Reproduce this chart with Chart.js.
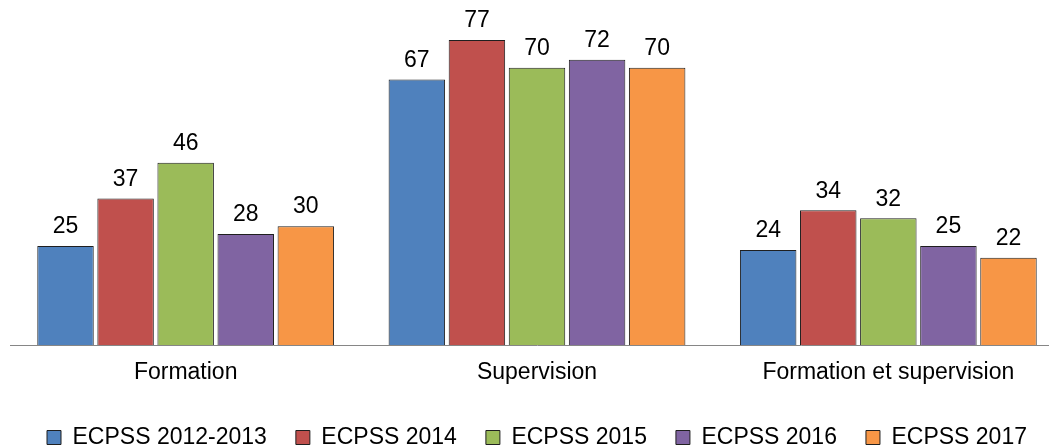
<!DOCTYPE html>
<html>
<head>
<meta charset="utf-8">
<script src="https://cdn.jsdelivr.net/npm/chart.js@4"></script>
<style>
  html, body { margin: 0; padding: 0; background: #fff; overflow: hidden; }
  #wrap { width: 1064px; height: 448px; }
</style>
</head>
<body>
<div id="wrap"><canvas id="chart"></canvas></div>
<script>
// Chart data
const categories = ["Formation", "Supervision", "Formation et supervision"];
const seriesNames = ["ECPSS 2012-2013", "ECPSS 2014", "ECPSS 2015", "ECPSS 2016", "ECPSS 2017"];
const ecpss2012 = [25, 67, 24];
const ecpss2014 = [37, 77, 34];
const ecpss2015 = [46, 70, 32];
const ecpss2016 = [28, 72, 25];
const ecpss2017 = [30, 70, 22];

const seriesValues = [ecpss2012, ecpss2014, ecpss2015, ecpss2016, ecpss2017];
const seriesColors = ["#4F81BD", "#C0504D", "#9BBB59", "#8064A2", "#F79646"];

const fontFamily = "'Liberation Sans', Arial, sans-serif";

// Draw the value above each bar
const valueLabels = {
  id: "valueLabels",
  afterDatasetsDraw(chart) {
    const ctx = chart.ctx;
    ctx.save();
    ctx.font = "23px " + fontFamily;
    ctx.fillStyle = "#000";
    ctx.textAlign = "center";
    ctx.textBaseline = "middle";
    chart.data.datasets.forEach((ds, i) => {
      chart.getDatasetMeta(i).data.forEach((bar, j) => {
        ctx.fillText(ds.data[j], bar.x, bar.y - 19);
      });
    });
    ctx.restore();
  }
};

const datasets = seriesNames.map((name, i) => ({
  label: name,
  data: seriesValues[i],
  backgroundColor: seriesColors[i],
  borderColor: "#1f1f1f",
  borderWidth: 1,
  categoryPercentage: 0.855,
  barPercentage: 0.94
}));

new Chart(document.getElementById("chart"), {
  type: "bar",
  data: { labels: categories, datasets: datasets },
  options: {
    responsive: true,
    maintainAspectRatio: false,
    animation: false,
    layout: { padding: { left: 10, right: 0, top: 28, bottom: -11 } },
    scales: {
      x: {
        grid: { display: false, drawTicks: false },
        border: { display: true, color: "#868686", width: 1 },
        ticks: {
          color: "#000",
          padding: 14,
          font: { family: fontFamily, size: 23 }
        },
        afterFit(scale) { scale.height = 52; }
      },
      y: {
        display: false,
        min: 0,
        max: 80
      }
    },
    plugins: {
      tooltip: { enabled: false },
      legend: {
        position: "bottom",
        labels: {
          color: "#000",
          boxWidth: 14,
          boxHeight: 14,
          padding: 29,
          font: { family: fontFamily, size: 23 }
        }
      }
    }
  },
  plugins: [valueLabels]
});
</script>
</body>
</html>
